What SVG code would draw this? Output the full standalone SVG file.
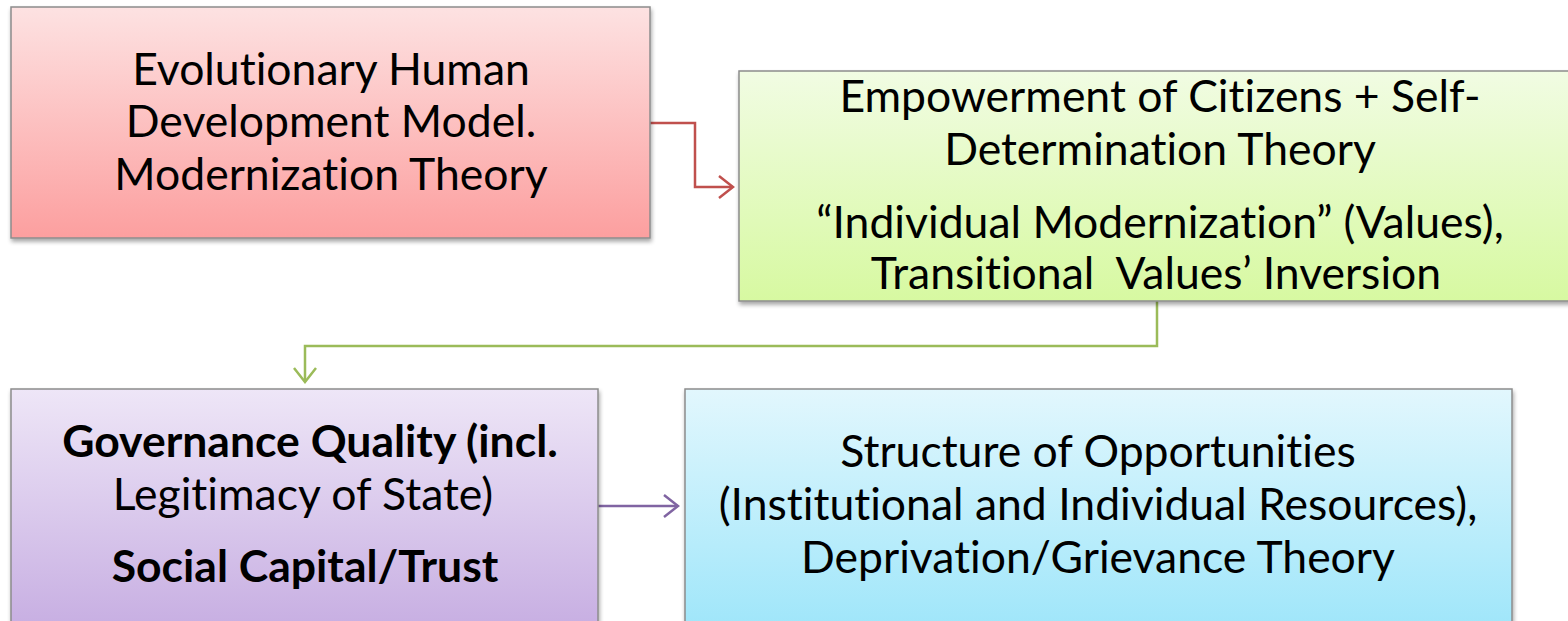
<svg xmlns="http://www.w3.org/2000/svg" width="1568" height="621" viewBox="0 0 1568 621">
<style>
text{font-family:Lato,"Open Sans","Liberation Sans",sans-serif;font-size:44.5px;fill:#000;text-anchor:middle;font-variant-ligatures:none}
.b{font-weight:bold}
.box{stroke:#8c8c8c;stroke-width:1.5}
.con{fill:none;stroke-width:2.5}
</style>
<defs>
<linearGradient id="gr" x1="0" y1="0" x2="0" y2="1"><stop offset="0" stop-color="#fde2e2"/><stop offset="1" stop-color="#fc9f9f"/></linearGradient>
<linearGradient id="gg" x1="0" y1="0" x2="0" y2="1"><stop offset="0" stop-color="#f1fce3"/><stop offset="1" stop-color="#d7f9a1"/></linearGradient>
<linearGradient id="gp" x1="0" y1="0" x2="0" y2="1"><stop offset="0" stop-color="#eee6f7"/><stop offset="1" stop-color="#c7aee2"/></linearGradient>
<linearGradient id="gb" x1="0" y1="0" x2="0" y2="1"><stop offset="0" stop-color="#e2f7fd"/><stop offset="1" stop-color="#9fe6fa"/></linearGradient>
<filter id="sh" x="-5%" y="-5%" width="110%" height="115%"><feGaussianBlur in="SourceAlpha" stdDeviation="2"/><feOffset dx="1" dy="3"/><feComponentTransfer><feFuncA type="linear" slope="0.35"/></feComponentTransfer><feMerge><feMergeNode/><feMergeNode in="SourceGraphic"/></feMerge></filter>
<marker id="arr" markerWidth="40" markerHeight="30" refX="38" refY="15" orient="auto" markerUnits="userSpaceOnUse"><path d="M24,4 L38,15 L24,26" fill="none" stroke="#c0504d" stroke-width="2.5"/></marker>
<marker id="arg" markerWidth="40" markerHeight="30" refX="38" refY="15" orient="auto" markerUnits="userSpaceOnUse"><path d="M24,4 L38,15 L24,26" fill="none" stroke="#9bbb59" stroke-width="2.5"/></marker>
<marker id="arp" markerWidth="40" markerHeight="30" refX="38" refY="15" orient="auto" markerUnits="userSpaceOnUse"><path d="M24,4 L38,15 L24,26" fill="none" stroke="#8064a2" stroke-width="2.5"/></marker>
</defs>
<rect width="1568" height="621" fill="#fff"/>
<g id="connectors">
<polyline class="con" stroke="#c0504d" points="650,123 695,123 695,187 733,187" marker-end="url(#arr)"/>
<polyline class="con" stroke="#9bbb59" points="1157,301 1157,346 305,346 305,382" marker-end="url(#arg)"/>
<polyline class="con" stroke="#8064a2" points="598,506 678,506" marker-end="url(#arp)"/>
</g>
<g id="node-evolutionary">
<rect class="box" x="11" y="7" width="639" height="231" fill="url(#gr)" filter="url(#sh)"/>
<text x="331" y="85">Evolutionary Human</text>
<text x="331" y="137">Development Model.</text>
<text x="331" y="190">Modernization Theory</text>
</g>
<g id="node-empowerment">
<rect class="box" x="739" y="71" width="840" height="230" fill="url(#gg)" filter="url(#sh)"/>
<text x="1160" y="112">Empowerment of Citizens + Self-</text>
<text x="1160" y="165">Determination Theory</text>
<text x="1160" y="238">“Individual Modernization” (Values),</text>
<text x="1156" y="289" xml:space="preserve">Transitional  Values’ Inversion</text>
</g>
<g id="node-governance">
<rect class="box" x="11" y="389" width="587" height="240" fill="url(#gp)" filter="url(#sh)"/>
<text x="310" y="457" class="b">Governance Quality (incl.</text>
<text x="303" y="510">Legitimacy of State)</text>
<text x="305" y="582" class="b">Social Capital/Trust</text>
</g>
<g id="node-structure">
<rect class="box" x="685" y="389" width="827" height="240" fill="url(#gb)" filter="url(#sh)"/>
<text x="1098" y="467">Structure of Opportunities</text>
<text x="1098" y="520">(Institutional and Individual Resources),</text>
<text x="1098" y="573">Deprivation/Grievance Theory</text>
</g>
</svg>
